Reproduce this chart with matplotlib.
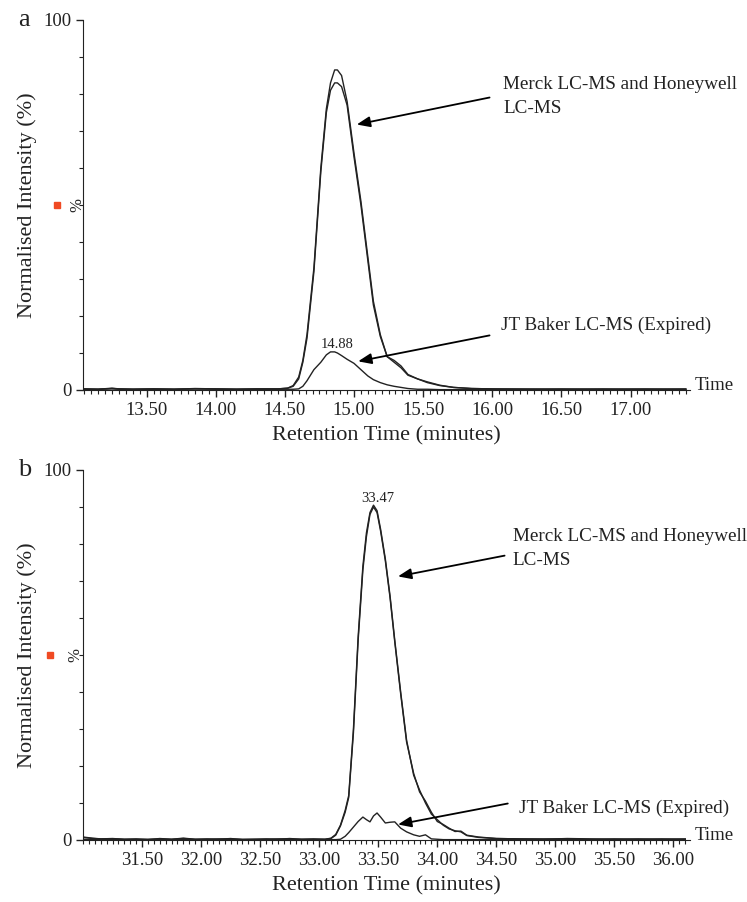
import matplotlib
matplotlib.use("Agg")
import matplotlib.pyplot as plt
from matplotlib.ticker import MultipleLocator, FixedLocator

plt.rcParams['font.family'] = ['Liberation Serif', 'DejaVu Serif']

# panel a - retention time (min) and normalised intensity (%)
time_a = [13.04, 13.15, 13.25, 13.30, 13.40, 13.55, 13.70, 13.85, 14.00, 14.15, 14.30, 14.45,
          14.52, 14.56, 14.60, 14.63, 14.66, 14.71, 14.76, 14.80, 14.83, 14.86, 14.88, 14.91,
          14.95, 15.00, 15.05, 15.10, 15.14, 15.19, 15.24, 15.29, 15.34, 15.39, 15.46, 15.53,
          15.62, 15.72, 15.85, 16.00, 16.20, 16.50, 16.80, 17.10, 17.40]
merck_a = [0.3, 0.2, 0.5, 0.3, 0.2, 0.3, 0.2, 0.4, 0.3, 0.2, 0.3, 0.3,
           0.5, 1.2, 3.5, 8, 15, 33, 60, 76, 83, 86.5, 86.5, 85,
           78, 64, 51, 36, 24, 15, 9, 7.5, 6, 4, 3, 2,
           1.2, 0.7, 0.4, 0.3, 0.3, 0.2, 0.3, 0.2, 0.3]
honeywell_a = [0.3, 0.2, 0.4, 0.3, 0.2, 0.3, 0.2, 0.3, 0.3, 0.2, 0.3, 0.3,
               0.5, 1.0, 3, 7.5, 14, 32, 59, 75, 81, 83, 83, 82,
               77, 63, 50, 35, 23, 14.5, 9, 8, 6.5, 4.2, 3, 2.2,
               1.3, 0.7, 0.4, 0.3, 0.2, 0.3, 0.2, 0.3, 0.2]
baker_a = [0.2, 0.2, 0.3, 0.2, 0.2, 0.2, 0.2, 0.3, 0.2, 0.2, 0.2, 0.2,
           0.2, 0.2, 0.3, 1, 2.5, 5.5, 7.5, 9.5, 10.3, 10.3, 10, 9.3,
           8.3, 7.2, 5.5, 3.8, 2.8, 2, 1.4, 1, 0.7, 0.4, 0.2, 0.2,
           0.1, 0.1, 0.1, 0.1, 0.1, 0.1, 0.1, 0.1, 0.1]

# panel b
time_b = [31.00, 31.08, 31.15, 31.25, 31.35, 31.45, 31.55, 31.65, 31.75, 31.85, 31.95, 32.05,
          32.15, 32.25, 32.35, 32.45, 32.55, 32.65, 32.75, 32.85, 32.95, 33.05, 33.10, 33.14,
          33.18, 33.22, 33.25, 33.29, 33.33, 33.37, 33.40, 33.43, 33.46, 33.49, 33.52, 33.56,
          33.60, 33.64, 33.69, 33.74, 33.80, 33.85, 33.90, 33.95, 34.00, 34.05, 34.10, 34.15,
          34.20, 34.25, 34.35, 34.50, 34.70, 34.90, 35.10, 35.30, 35.50, 35.70, 35.90, 36.10]
merck_b = [0.8, 0.5, 0.3, 0.4, 0.2, 0.3, 0.1, 0.4, 0.2, 0.5, 0.2, 0.3,
           0.2, 0.4, 0.1, 0.2, 0.3, 0.2, 0.4, 0.2, 0.3, 0.2, 0.5, 1.5,
           4, 8, 12, 30, 55, 74, 83, 88.5, 90.5, 89, 84, 76,
           66, 54, 40, 27, 17.5, 13.5, 10, 7, 5.5, 4, 3, 2.5,
           2.2, 1.2, 0.7, 0.4, 0.3, 0.2, 0.4, 0.3, 0.2, 0.3, 0.2, 0.3]
honeywell_b = [0.7, 0.4, 0.3, 0.3, 0.2, 0.2, 0.2, 0.3, 0.2, 0.4, 0.2, 0.2,
               0.3, 0.3, 0.2, 0.2, 0.2, 0.3, 0.3, 0.2, 0.2, 0.2, 0.4, 1.3,
               3.8, 7.5, 11.5, 29, 54, 73, 82, 88, 90, 88.5, 83.5, 75.5,
               65.5, 53.5, 39.5, 26.5, 18, 13, 10.5, 7.5, 5, 4.2, 3.2, 2.3,
               2.4, 1.3, 0.8, 0.4, 0.3, 0.3, 0.3, 0.2, 0.3, 0.2, 0.3, 0.2]
baker_b = [0.2, 0.1, 0.1, 0.2, 0.1, 0.1, 0.1, 0.1, 0.1, 0.1, 0.1, 0.1,
           0.1, 0.1, 0.1, 0.1, 0.1, 0.1, 0.1, 0.1, 0.1, 0.1, 0.1, 0.1,
           0.2, 1, 2, 3.5, 5, 6.2, 5.5, 4.9, 6.5, 7.3, 6.2, 4.6,
           4.8, 4.9, 3.2, 2.2, 1.4, 1.0, 1.4, 0.3, 0.2, 0.1, 0.1, 0.1,
           0.1, 0.1, 0.1, 0.1, 0.1, 0.1, 0.1, 0.1, 0.1, 0.1, 0.1, 0.1]

ink = "#222222"
W, H = 747, 902

fig = plt.figure(figsize=(W / 100, H / 100), dpi=100)


def make_panel(rect, time, series, xlim, xticks, letter, peak_label, peak_pos,
               merck_arrow, baker_arrow, merck_txt, baker_txt, red_x, pct_x):
    ax = fig.add_axes(rect)
    for s in series:
        ax.plot(time, s, color=ink, lw=1.0)
    ax.set_xlim(*xlim)
    ax.set_ylim(0, 100)
    for side in ["top", "right"]:
        ax.spines[side].set_visible(False)
    ax.spines["left"].set_color(ink)
    ax.spines["bottom"].set_color(ink)
    ax.xaxis.set_major_locator(FixedLocator(xticks))
    ax.set_xticklabels(["%.2f" % t for t in xticks])
    ax.xaxis.set_minor_locator(MultipleLocator(0.05))
    ax.yaxis.set_major_locator(FixedLocator([0, 100]))
    ax.yaxis.set_minor_locator(MultipleLocator(10))
    ax.tick_params(which="major", length=5, width=1, colors=ink, labelsize=13.5)
    ax.tick_params(which="minor", length=3, width=0.8, colors=ink)
    ax.set_xlabel("Retention Time (minutes)", fontsize=16, color=ink, labelpad=5)
    ax.set_ylabel("Normalised Intensity (%)", fontsize=16, color=ink)
    ax.yaxis.set_label_coords(-46 / 607, 0.5)

    ax.text(1.008, 0.012, "Time", transform=ax.transAxes, fontsize=13.5,
            color=ink, va="center", ha="left")
    ax.text(-65 / 607, 1.0, letter, transform=ax.transAxes, fontsize=19,
            color=ink, va="center", ha="left")
    ax.plot([red_x], [0.5], marker="s", ms=4.5, color="#f04a23",
            transform=ax.transAxes, clip_on=False)
    ax.text(pct_x, 0.5, "%", transform=ax.transAxes, rotation=-90,
            fontsize=12, color=ink, va="center", ha="center")

    ax.text(peak_pos[0], peak_pos[1], peak_label, fontsize=10.5, color=ink,
            ha="center", va="center")

    arrow = dict(arrowstyle="-|>,head_length=0.8,head_width=0.32", color="black", lw=1.3)
    ax.annotate("", xy=merck_arrow[0], xytext=merck_arrow[1], arrowprops=arrow)
    ax.annotate("", xy=baker_arrow[0], xytext=baker_arrow[1], arrowprops=arrow)
    ax.text(merck_txt[0], merck_txt[1], "Merck LC-MS and Honeywell\nLC-MS",
            fontsize=13.8, color=ink, va="center", ha="left", linespacing=1.55)
    ax.text(baker_txt[0], baker_txt[1], "JT Baker LC-MS (Expired)",
            fontsize=13.8, color=ink, va="center", ha="left")
    return ax


make_panel([83 / W, 1 - 390 / H, 607 / W, 370 / H], time_a,
           [merck_a, honeywell_a, baker_a], (13.04, 17.43),
           [13.5, 14.0, 14.5, 15.0, 15.5, 16.0, 16.5, 17.0], "a",
           "14.88", (14.88, 12.2),
           ((15.00, 71.6), (16.00, 79.2)), ((15.01, 7.6), (16.00, 14.9)),
           (16.08, 79.4), (16.06, 17.6), -26 / 607, -11 / 607)

make_panel([83 / W, 1 - 840 / H, 607 / W, 370 / H], time_b,
           [merck_b, honeywell_b, baker_b], (31.0, 36.14),
           [31.5, 32.0, 32.5, 33.0, 33.5, 34.0, 34.5, 35.0, 35.5, 36.0], "b",
           "33.47", (33.50, 92.4),
           ((33.644, 71.1), (34.593, 77.0)), ((33.644, 4.05), (34.62, 10.0)),
           (34.64, 78.8), (34.69, 8.6), -33 / 607, -13 / 607)

fig.savefig("out.png", dpi=100)
